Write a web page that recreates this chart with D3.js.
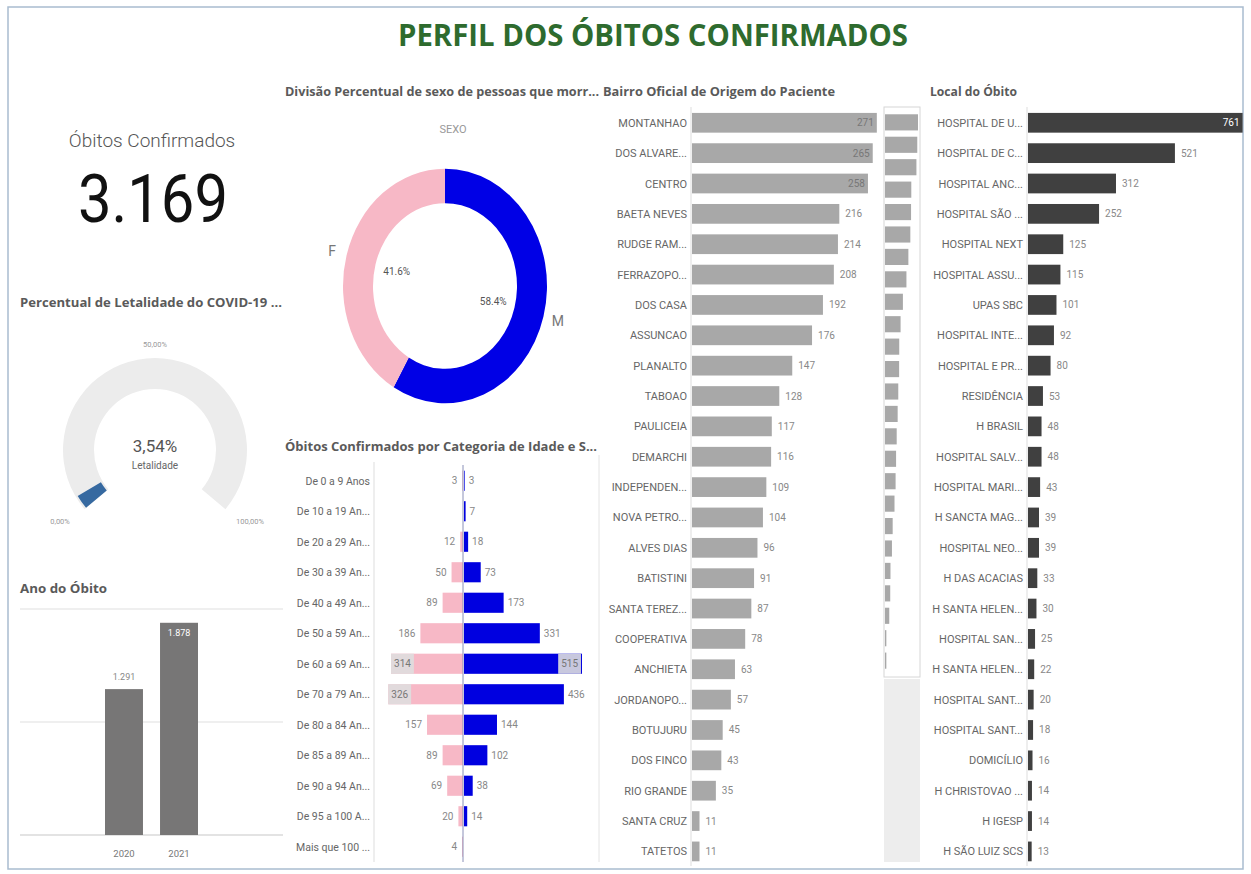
<!DOCTYPE html>
<html lang="pt-BR">
<head>
<meta charset="UTF-8">
<title>Perfil dos Óbitos Confirmados</title>
<script src="https://d3js.org/d3.v7.min.js"></script>
<style>
    body { margin: 0; background: #fff; }
    svg text { font-family: Roboto, "Open Sans", "DejaVu Sans", sans-serif; }
    .ptitle { font-weight: bold; fill: #5a5a5a; font-size: 13px; font-family: "Open Sans", Roboto, sans-serif; }
    .rowlabel { fill: #666; font-size: 11px; }
    .val { fill: #888; font-size: 10px; }
</style>
</head>
<body>
<svg id="chart" width="1251" height="874"></svg>
<script>
// ---- data ----
const totalObitos = 3169;
const letalidade = 3.54;
const gaugeTicks = ["0,00%", "50,00%", "100,00%"];

const sexos = ["M", "F"];
const sexoPct = [58.4, 41.6];

const anos = ["2020", "2021"];
const obitosAno = [1291, 1878];

const faixas = ["De 0 a 9 Anos", "De 10 a 19 An...", "De 20 a 29 An...", "De 30 a 39 An...", "De 40 a 49 An...",
    "De 50 a 59 An...", "De 60 a 69 An...", "De 70 a 79 An...", "De 80 a 84 An...", "De 85 a 89 An...",
    "De 90 a 94 An...", "De 95 a 100 A...", "Mais que 100 ..."];
const idadeF = [3, 0, 12, 50, 89, 186, 314, 326, 157, 89, 69, 20, 4];
const idadeM = [3, 7, 18, 73, 173, 331, 515, 436, 144, 102, 38, 14, 0];

const bairros = ["MONTANHAO", "DOS ALVARE...", "CENTRO", "BAETA NEVES", "RUDGE RAM...", "FERRAZOPO...",
    "DOS CASA", "ASSUNCAO", "PLANALTO", "TABOAO", "PAULICEIA", "DEMARCHI", "INDEPENDEN...", "NOVA PETRO...",
    "ALVES DIAS", "BATISTINI", "SANTA TEREZ...", "COOPERATIVA", "ANCHIETA", "JORDANOPO...", "BOTUJURU",
    "DOS FINCO", "RIO GRANDE", "SANTA CRUZ", "TATETOS"];
const bairroVals = [271, 265, 258, 216, 214, 208, 192, 176, 147, 128, 117, 116, 109, 104, 96, 91, 87, 78,
    63, 57, 45, 43, 35, 11, 11];

const locais = ["HOSPITAL DE U...", "HOSPITAL DE C...", "HOSPITAL ANC...", "HOSPITAL SÃO ...", "HOSPITAL NEXT",
    "HOSPITAL ASSU...", "UPAS SBC", "HOSPITAL INTE...", "HOSPITAL E PR...", "RESIDÊNCIA", "H BRASIL",
    "HOSPITAL SALV...", "HOSPITAL MARI...", "H SANCTA MAG...", "HOSPITAL NEO...", "H DAS ACACIAS",
    "H SANTA HELEN...", "HOSPITAL SAN...", "H SANTA HELEN...", "HOSPITAL SANT...", "HOSPITAL SANT...",
    "DOMICÍLIO", "H CHRISTOVAO ...", "H IGESP", "H SÃO LUIZ SCS"];
const localVals = [761, 521, 312, 252, 125, 115, 101, 92, 80, 53, 48, 48, 43, 39, 39, 33, 30, 25, 22, 20,
    18, 16, 14, 14, 13];

// ---- helpers ----
const br = d3.formatLocale({decimal: ",", thousands: ".", grouping: [3], currency: ["R$", ""]});
const fmt = br.format(",d");
const svg = d3.select("#chart");
const charW = 5.6; // rough width of a value label digit

// frame + title
svg.append("rect").attr("x", 8).attr("y", 7).attr("width", 1235).attr("height", 862)
    .attr("fill", "#fff").attr("stroke", "#a9bccf").attr("stroke-width", 1.5);

svg.append("text").attr("x", 653).attr("y", 46).attr("text-anchor", "middle")
    .attr("textLength", 510).attr("lengthAdjust", "spacingAndGlyphs")
    .style("font-family", "'Open Sans', Roboto, sans-serif")
    .style("font-size", "31px").style("font-weight", "bold").style("fill", "#2e6b2e")
    .text("PERFIL DOS ÓBITOS CONFIRMADOS");

// ---- KPI ----
svg.append("text").attr("x", 152).attr("y", 147).attr("text-anchor", "middle")
    .style("font-size", "19px").style("font-weight", 300).style("fill", "#555")
    .text("Óbitos Confirmados");
svg.append("text").attr("x", 153).attr("y", 222).attr("text-anchor", "middle")
    .attr("textLength", 150).attr("lengthAdjust", "spacingAndGlyphs")
    .style("font-size", "66px").style("fill", "#111")
    .text(fmt(totalObitos));

// ---- gauge ----
function panelTitle(x, y, txt, len) {
    const t = svg.append("text").attr("class", "ptitle").attr("x", x).attr("y", y).text(txt);
    if (len) t.attr("textLength", len).attr("lengthAdjust", "spacingAndGlyphs");
}
panelTitle(20, 307, "Percentual de Letalidade do COVID-19 ...", 262);

const gx = 155, gy = 450;
const gAngle = d3.scaleLinear().domain([0, 100]).range([-130 * Math.PI / 180, 130 * Math.PI / 180]);
const gArc = d3.arc().innerRadius(61).outerRadius(92);
const gauge = svg.append("g").attr("transform", `translate(${gx},${gy})`);
gauge.append("path").attr("d", gArc({startAngle: gAngle(0), endAngle: gAngle(100)})).attr("fill", "#ececec");
gauge.append("path").attr("d", d3.arc().innerRadius(63).outerRadius(90)({startAngle: gAngle(0), endAngle: gAngle(letalidade)}))
    .attr("fill", "#3669a0");
gauge.append("text").attr("y", 2).attr("text-anchor", "middle").style("font-size", "17px").style("fill", "#555")
    .text(br.format(".2f")(letalidade) + "%");
gauge.append("text").attr("y", 19).attr("text-anchor", "middle").style("font-size", "10px").style("fill", "#666")
    .text("Letalidade");
// tick labels: top one above the arc, end ones below-outside the arc ends
[0, 50, 100].forEach((v, i) => {
    const a = gAngle(v);
    const pos = v === 50 ? [0, -103] : [Math.sin(a) * 124, 74];
    gauge.append("text").attr("x", pos[0]).attr("y", pos[1])
        .attr("text-anchor", "middle").style("font-size", "7.5px").style("fill", "#999")
        .text(gaugeTicks[i]);
});

// ---- year bars ----
panelTitle(20, 593, "Ano do Óbito", 87);
const yx = d3.scaleBand().domain(anos).range([105, 198]).paddingInner(0.31);
const yy = d3.scaleLinear().domain([0, 2000]).range([835, 609]);
svg.append("g").selectAll("line").data(yy.ticks(2)).join("line")
    .attr("x1", 20).attr("x2", 283).attr("y1", d => yy(d)).attr("y2", d => yy(d))
    .attr("stroke", d => d === 0 ? "#c8c8c8" : "#e0e0e0").attr("stroke-width", 1.2);
svg.append("g").selectAll("rect").data(anos).join("rect")
    .attr("x", d => yx(d)).attr("width", yx.bandwidth())
    .attr("y", (d, i) => yy(obitosAno[i])).attr("height", (d, i) => yy(0) - yy(obitosAno[i]))
    .attr("fill", "#777676");
svg.append("g").selectAll("text").data(anos).join("text")
    .attr("x", d => yx(d) + yx.bandwidth() / 2).attr("text-anchor", "middle").style("font-size", "9px")
    .attr("y", (d, i) => yy(obitosAno[i]) - 16 < yy(2000) ? yy(obitosAno[i]) + 13 : yy(obitosAno[i]) - 9)
    .style("fill", (d, i) => yy(obitosAno[i]) - 16 < yy(2000) ? "#fff" : "#888")
    .text((d, i) => fmt(obitosAno[i]));
svg.append("g").selectAll("text").data(anos).join("text")
    .attr("x", d => yx(d) + yx.bandwidth() / 2).attr("y", 857).attr("text-anchor", "middle")
    .style("font-size", "9.5px").style("fill", "#777").text(d => d);

// ---- donut ----
panelTitle(285, 96, "Divisão Percentual de sexo de pessoas que morr...", 314);
panelTitle(603, 96, "Bairro Oficial de Origem do Paciente", 232);
svg.append("text").attr("x", 453).attr("y", 133).attr("text-anchor", "middle")
    .style("font-size", "11px").style("fill", "#999").text("SEXO");

const dcx = 445, dcy = 286, sy = 1.15;
const sexColor = d3.scaleOrdinal().domain(sexos).range(["#0000e6", "#f7b8c6"]);
const pie = d3.pie().sort(null).value((d, i) => sexoPct[i]);
const arcs = pie(sexos);
const donut = svg.append("g").attr("transform", `translate(${dcx},${dcy}) scale(1,${sy})`);
donut.selectAll("path").data(arcs).join("path")
    .attr("d", d3.arc().innerRadius(72).outerRadius(102))
    .attr("fill", d => sexColor(d.data));
const inLab = d3.arc().innerRadius(50).outerRadius(50);
const outLab = d3.arc().innerRadius(117).outerRadius(117);
arcs.forEach((a, i) => {
    const [ix, iy] = inLab.centroid(a);
    const [ox, oy] = outLab.centroid(a);
    svg.append("text").attr("x", dcx + ix).attr("y", dcy + iy * sy + 4).attr("text-anchor", "middle")
        .style("font-size", "10px").style("fill", "#555").text(sexoPct[i].toFixed(1) + "%");
    svg.append("text").attr("x", dcx + ox).attr("y", dcy + oy * sy + 5).attr("text-anchor", "middle")
        .style("font-size", "14px").style("fill", "#777").text(a.data);
});

// ---- age pyramid ----
panelTitle(285, 451, "Óbitos Confirmados por Categoria de Idade e S...", 312);
const ay = d3.scaleBand().domain(faixas).range([465.5, 862]).paddingInner(0.34).paddingOuter(0.17);
const ax = d3.scaleLinear().domain([0, 550]).range([0, 126]);
const acx = 463, aLeft = 375, aRight = 597;
svg.append("line").attr("x1", 374).attr("x2", 374).attr("y1", 462).attr("y2", 862).attr("stroke", "#ddd");
svg.append("line").attr("x1", aRight + 2).attr("x2", aRight + 2).attr("y1", 455).attr("y2", 862).attr("stroke", "#e4e4e4");
svg.append("g").selectAll("text").data(faixas).join("text").attr("class", "rowlabel")
    .attr("x", 370).attr("y", d => ay(d) + ay.bandwidth() / 2 + 4).attr("text-anchor", "end")
    .style("font-size", "10.5px").text(d => d);
const age = svg.append("g");
age.selectAll("rect.f").data(faixas).join("rect").attr("class", "f")
    .attr("x", (d, i) => acx - ax(idadeF[i])).attr("width", (d, i) => ax(idadeF[i]))
    .attr("y", d => ay(d)).attr("height", ay.bandwidth()).attr("fill", "#f7b8c6");
age.selectAll("rect.m").data(faixas).join("rect").attr("class", "m")
    .attr("x", acx + 1).attr("width", (d, i) => ax(idadeM[i]))
    .attr("y", d => ay(d)).attr("height", ay.bandwidth()).attr("fill", "#0000e0");
svg.append("line").attr("x1", acx).attr("x2", acx).attr("y1", 465).attr("y2", 862).attr("stroke", "#8a90b8");
// labels: outside when they fit, otherwise inside on a light box
faixas.forEach((d, i) => {
    const cy = ay(d) + ay.bandwidth() / 2 + 3.5;
    [[idadeF[i], -1], [idadeM[i], 1]].forEach(([v, side]) => {
        if (!v) return;
        const txt = String(v), tw = txt.length * charW;
        const end = acx + side * ax(v);
        const outside = side < 0 ? end - 5 - tw > aLeft : end + 5 + tw < aRight;
        if (outside) {
            age.append("text").attr("class", "val").attr("x", end + side * 5).attr("y", cy)
                .attr("text-anchor", side < 0 ? "end" : "start").text(txt);
        } else {
            const bx = side < 0 ? end : end - tw - 6;
            age.append("rect").attr("x", bx).attr("y", ay(d)).attr("width", tw + 6).attr("height", ay.bandwidth())
                .attr("fill", "#dedede").attr("opacity", 0.9);
            age.append("text").attr("class", "val").attr("x", bx + 3).attr("y", cy).style("fill", "#777").text(txt);
        }
    });
});

// ---- horizontal bar helper (bairro / local) ----
function hbar(labels, vals, x0, scaleMax, rightLimit, color, insideColor) {
    const idx = labels.map((d, i) => i);
    const y = d3.scaleBand().domain(idx).range([107.6, 866.6]).paddingInner(0.35).paddingOuter(0.175);
    const x = d3.scaleLinear().domain([0, scaleMax]).range([x0, rightLimit]);
    const g = svg.append("g");
    g.append("line").attr("x1", x0 - 1).attr("x2", x0 - 1).attr("y1", 107).attr("y2", 866).attr("stroke", "#ddd");
    g.selectAll("text.lab").data(idx).join("text").attr("class", "rowlabel")
        .attr("x", x0 - 5).attr("y", i => y(i) + y.bandwidth() / 2 + 4).attr("text-anchor", "end")
        .text(i => labels[i]);
    g.selectAll("rect").data(idx).join("rect")
        .attr("x", x0).attr("y", i => y(i)).attr("height", y.bandwidth())
        .attr("width", i => x(vals[i]) - x0).attr("fill", color);
    g.selectAll("text.v").data(idx).join("text").attr("class", "val")
        .each(function (i) {
            const tw = String(vals[i]).length * charW;
            const end = x(vals[i]);
            const inside = end + 6 + tw > rightLimit + 3;
            d3.select(this).attr("x", inside ? end - 3 : end + 6).attr("text-anchor", inside ? "end" : "start")
                .style("fill", inside ? insideColor : "#888");
        })
        .attr("y", i => y(i) + y.bandwidth() / 2 + 3.5)
        .text(i => vals[i]);
    return y;
}

hbar(bairros, bairroVals, 692, 271, 692 + 271 * 0.682, "#a8a8a8", "#777");

// minimap of the bairro list
const mm = svg.append("g");
mm.append("rect").attr("x", 884).attr("y", 107).attr("width", 36).attr("height", 570)
    .attr("fill", "#fff").attr("stroke", "#d6d6d6");
mm.append("rect").attr("x", 884).attr("y", 679).attr("width", 36).attr("height", 183).attr("fill", "#ededed");
const my = d3.scaleBand().domain(bairros.map((d, i) => i)).range([108, 675]).padding(0.28);
const mx = d3.scaleLinear().domain([0, 271]).range([0, 33]);
mm.selectAll("rect.b").data(bairros.map((d, i) => i)).join("rect").attr("class", "b")
    .attr("x", 885).attr("y", i => my(i)).attr("height", my.bandwidth())
    .attr("width", i => mx(bairroVals[i])).attr("fill", "#a8a8a8");

// ---- local do óbito ----
panelTitle(930, 96, "Local do Óbito", 87);
hbar(locais, localVals, 1028, 761, 1028 + 761 * 0.282, "#404040", "#fff");
</script>
</body>
</html>
